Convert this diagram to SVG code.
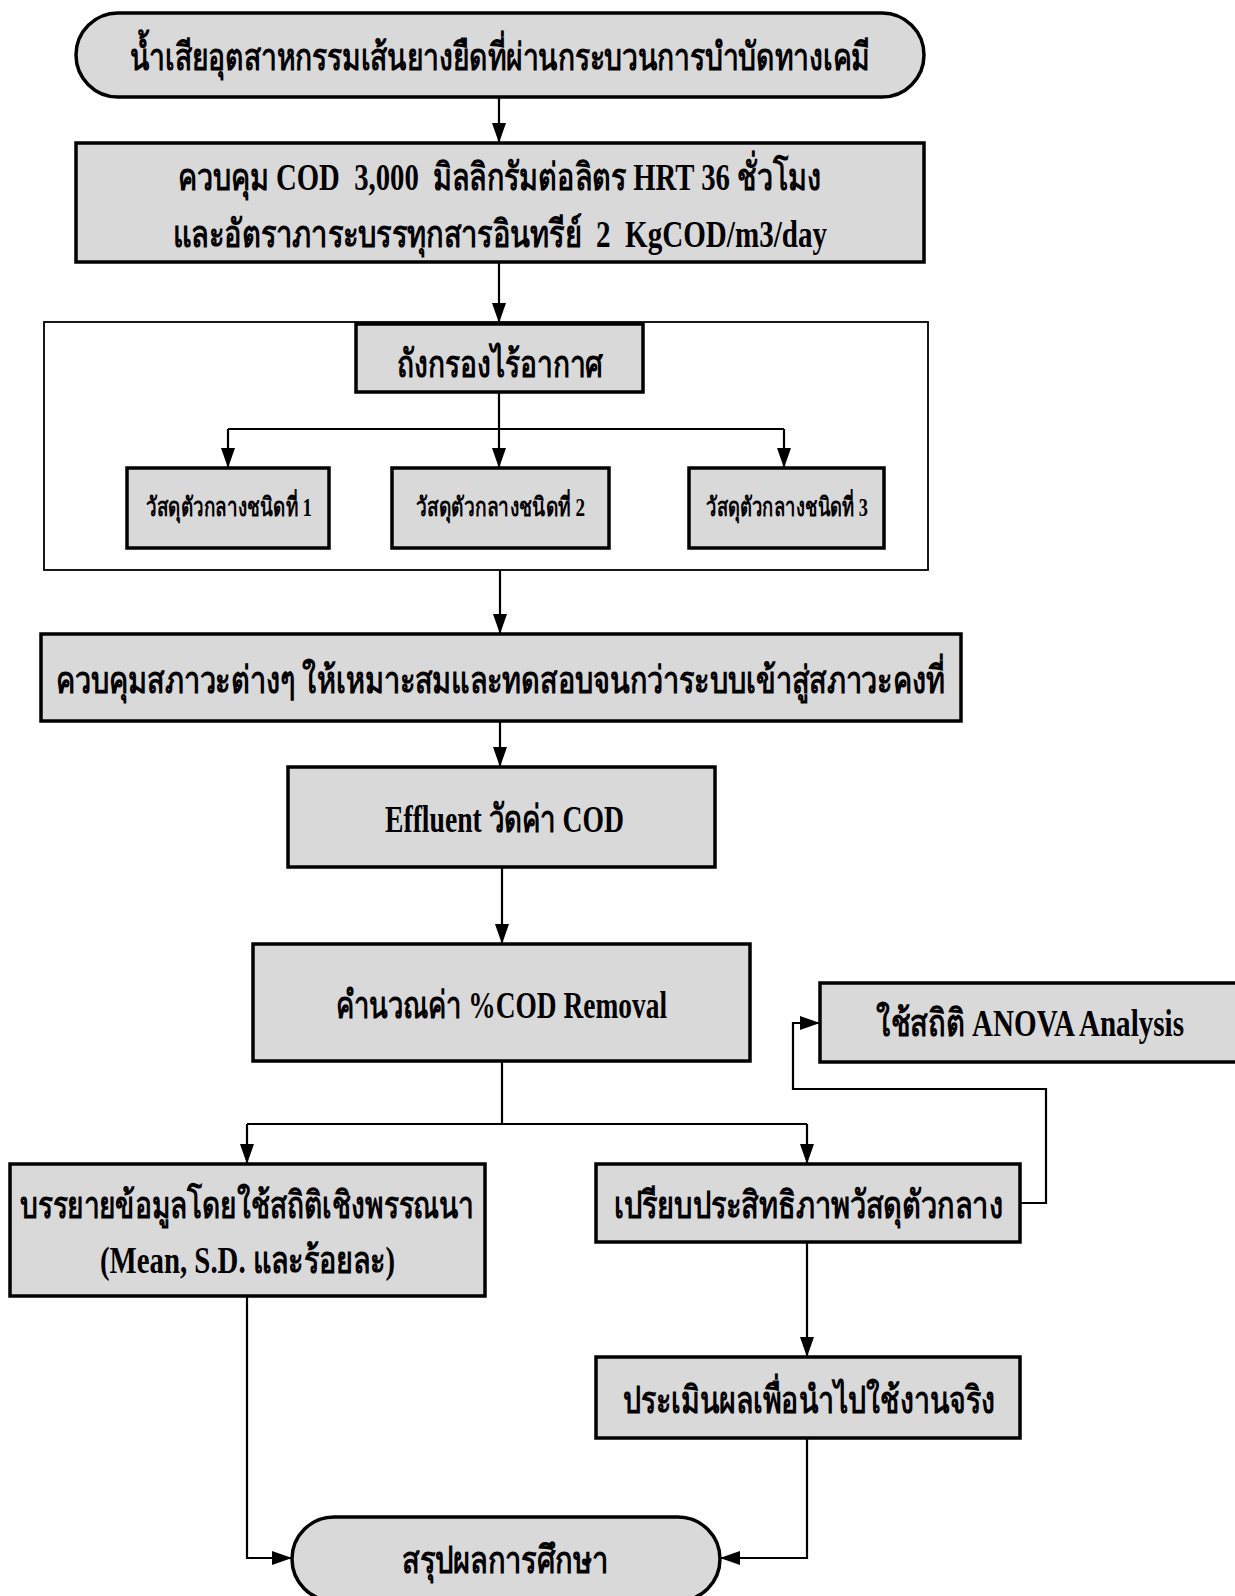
<svg xmlns="http://www.w3.org/2000/svg" width="1235" height="1596" viewBox="0 0 1235 1596">
  <style>
    .box { fill: #d9d9d9; stroke: #000; stroke-width: 3.5; }
    .frame { fill: #fff; stroke: #000; stroke-width: 1.8; }
    .line { fill: none; stroke: #000; stroke-width: 2.2; }
    text { font-family: "Liberation Serif", "Noto Sans CJK SC", serif; font-weight: bold; fill: #000; white-space: pre; }
    .t { font-size: 38px; }
    .s { font-size: 26px; }
  </style>
  <defs>
    <marker id="arrow" viewBox="0 0 20 14" refX="20" refY="7" markerWidth="20" markerHeight="14" markerUnits="userSpaceOnUse" orient="auto">
      <path d="M0,0 L20,7 L0,14 Z" fill="#000"/>
    </marker>
  </defs>
  <rect width="1235" height="1596" fill="#fff"/>

  <!-- container frame for the filter tank stage -->
  <g id="filter-stage">
    <rect class="frame" x="44" y="322" width="884" height="248"/>
  </g>

  <g id="connectors">
    <path class="line" d="M499,97 V143" marker-end="url(#arrow)"/>
    <path class="line" d="M499,262 V323" marker-end="url(#arrow)"/>
    <path class="line" d="M499,392 V429 M228,429 H784"/>
    <path class="line" d="M228,429 V468" marker-end="url(#arrow)"/>
    <path class="line" d="M499,429 V468" marker-end="url(#arrow)"/>
    <path class="line" d="M784,429 V468" marker-end="url(#arrow)"/>
    <path class="line" d="M500,570 V634" marker-end="url(#arrow)"/>
    <path class="line" d="M500,721 V767" marker-end="url(#arrow)"/>
    <path class="line" d="M502,867 V944" marker-end="url(#arrow)"/>
    <path class="line" d="M502,1061 V1124 M247,1124 H807"/>
    <path class="line" d="M247,1124 V1164" marker-end="url(#arrow)"/>
    <path class="line" d="M807,1124 V1164" marker-end="url(#arrow)"/>
    <path class="line" d="M1020,1203 H1046 V1089 H793 V1023 H820" marker-end="url(#arrow)"/>
    <path class="line" d="M807,1242 V1357" marker-end="url(#arrow)"/>
    <path class="line" d="M807,1438 V1558 H720" marker-end="url(#arrow)"/>
    <path class="line" d="M247,1296 V1558 H292" marker-end="url(#arrow)"/>
  </g>

  <g id="start">
    <rect class="box" x="76" y="13" width="848" height="84" rx="42" ry="42"/>
    <text class="t" x="130" y="70" textLength="740" lengthAdjust="spacingAndGlyphs">น้ำเสียอุตสาหกรรมเส้นยางยืดที่ผ่านกระบวนการบำบัดทางเคมี</text>
  </g>

  <g id="control-load">
    <rect class="box" x="76" y="143" width="848" height="119"/>
    <text class="t" x="178" y="190" textLength="643" lengthAdjust="spacingAndGlyphs">ควบคุม COD  3,000  มิลลิกรัมต่อลิตร HRT 36 ชั่วโมง</text>
    <text class="t" x="173" y="247" textLength="654" lengthAdjust="spacingAndGlyphs">และอัตราภาระบรรทุกสารอินทรีย์  2  KgCOD/m3/day</text>
  </g>

  <g id="anaerobic-filter">
    <rect class="box" x="356" y="324" width="287" height="68"/>
    <text class="t" x="397" y="377" textLength="206" lengthAdjust="spacingAndGlyphs">ถังกรองไร้อากาศ</text>
  </g>

  <g id="media-1">
    <rect class="box" x="127" y="468" width="202" height="80"/>
    <text class="s" x="146" y="516" textLength="166" lengthAdjust="spacingAndGlyphs">วัสดุตัวกลางชนิดที่ 1</text>
  </g>
  <g id="media-2">
    <rect class="box" x="392" y="468" width="217" height="80"/>
    <text class="s" x="416" y="516" textLength="169" lengthAdjust="spacingAndGlyphs">วัสดุตัวกลางชนิดที่ 2</text>
  </g>
  <g id="media-3">
    <rect class="box" x="689" y="468" width="195" height="80"/>
    <text class="s" x="706" y="516" textLength="162" lengthAdjust="spacingAndGlyphs">วัสดุตัวกลางชนิดที่ 3</text>
  </g>

  <g id="steady-state">
    <rect class="box" x="41" y="634" width="920" height="87"/>
    <text class="t" x="56" y="693" textLength="889" lengthAdjust="spacingAndGlyphs">ควบคุมสภาวะต่างๆ ให้เหมาะสมและทดสอบจนกว่าระบบเข้าสู่สภาวะคงที่</text>
  </g>

  <g id="effluent">
    <rect class="box" x="288" y="767" width="427" height="100"/>
    <text class="t" x="385" y="832" textLength="239" lengthAdjust="spacingAndGlyphs">Effluent วัดค่า COD</text>
  </g>

  <g id="removal">
    <rect class="box" x="253" y="944" width="497" height="117"/>
    <text class="t" x="336" y="1018" textLength="331" lengthAdjust="spacingAndGlyphs">คำนวณค่า %COD Removal</text>
  </g>

  <g id="anova">
    <rect class="box" x="820" y="983" width="425" height="79"/>
    <text class="t" x="876" y="1036" textLength="308" lengthAdjust="spacingAndGlyphs">ใช้สถิติ ANOVA Analysis</text>
  </g>

  <g id="descriptive">
    <rect class="box" x="10" y="1164" width="475" height="132"/>
    <text class="t" x="20" y="1218" textLength="454" lengthAdjust="spacingAndGlyphs">บรรยายข้อมูลโดยใช้สถิติเชิงพรรณนา</text>
    <text class="t" x="100" y="1273" textLength="295" lengthAdjust="spacingAndGlyphs">(Mean, S.D. และร้อยละ)</text>
  </g>

  <g id="compare">
    <rect class="box" x="596" y="1164" width="424" height="78"/>
    <text class="t" x="614" y="1218" textLength="389" lengthAdjust="spacingAndGlyphs">เปรียบประสิทธิภาพวัสดุตัวกลาง</text>
  </g>

  <g id="evaluate">
    <rect class="box" x="596" y="1357" width="424" height="81"/>
    <text class="t" x="623" y="1413" textLength="372" lengthAdjust="spacingAndGlyphs">ประเมินผลเพื่อนำไปใช้งานจริง</text>
  </g>

  <g id="conclusion">
    <rect class="box" x="292" y="1517" width="428" height="84" rx="42" ry="42"/>
    <text class="t" x="402" y="1573" textLength="206" lengthAdjust="spacingAndGlyphs">สรุปผลการศึกษา</text>
  </g>
</svg>
